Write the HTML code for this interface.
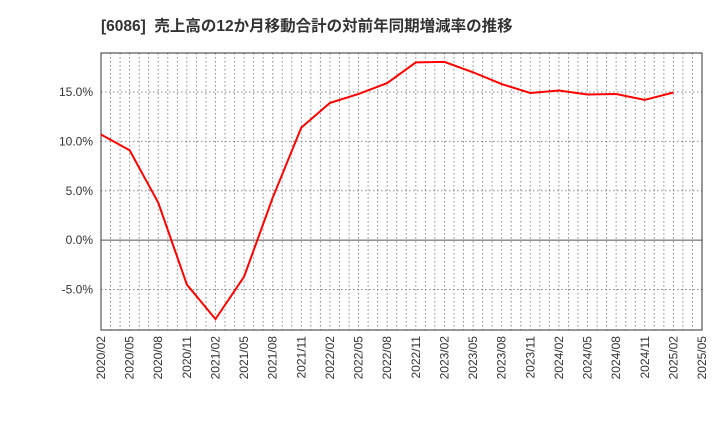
<!DOCTYPE html>
<html><head><meta charset="utf-8"><style>
body{margin:0;background:#fff;width:720px;height:440px;overflow:hidden}
text{font-family:"Liberation Sans","Noto Sans CJK JP",sans-serif}
</style></head><body>
<svg id="c" width="720" height="440" xmlns="http://www.w3.org/2000/svg">
<text x="101" y="31" font-size="15.5" font-weight="bold" fill="#333" xml:space="preserve">[6086]  売上高の12か月移動合計の対前年同期増減率の推移</text>
<g id="grid"></g><g id="axes"></g><g id="series"></g>
</svg>
<script>
const xLabels=["2020/02","2020/05","2020/08","2020/11","2021/02","2021/05","2021/08","2021/11","2022/02","2022/05","2022/08","2022/11","2023/02","2023/05","2023/08","2023/11","2024/02","2024/05","2024/08","2024/11","2025/02","2025/05"];
const values=[10.7,9.1,3.8,-4.5,-8.0,-3.7,4.3,11.4,13.9,14.8,15.9,18.0,18.05,17.0,15.8,14.9,15.15,14.75,14.8,14.2,14.95];
const yTicks=[-5,0,5,10,15];
const yTickLabels=["-5.0%","0.0%","5.0%","10.0%","15.0%"];
const L=101,R=702,T=53,B=330,ymin=-9.1,ymax=18.95;
const NS="http://www.w3.org/2000/svg";
const xs=i=>L+(R-L)*i/(xLabels.length-1);
const ys=v=>B-(v-ymin)/(ymax-ymin)*(B-T);
function mk(tag,attrs,parent){const e=document.createElementNS(NS,tag);for(const k in attrs)e.setAttribute(k,attrs[k]);document.getElementById(parent).appendChild(e);return e;}
const months=(xLabels.length-1)*3;
for(let m=1;m<months;m++){const x=L+(R-L)*m/months;
const g=mk('line',{x1:x,x2:x,y1:T,y2:B,stroke:'#888','stroke-dasharray':'1.5,2.5','stroke-width':1},'grid');

}
yTicks.forEach((v,i)=>{const y=ys(v);
const g=mk('line',{x1:L,x2:R,y1:y,y2:y,stroke:v===0?'#555':'#888','stroke-dasharray':v===0?'none':'1.5,2.5','stroke-width':1},'grid');


const t=mk('text',{x:L-8,y:y+4,'text-anchor':'end','font-size':12,fill:'#333'},'axes');t.textContent=yTickLabels[i];

});
xLabels.forEach((s,i)=>{const x=xs(i);
const t=mk('text',{x:x+4,y:B+6,'text-anchor':'end','font-size':12,fill:'#333',transform:`rotate(-90 ${x+4} ${B+6})`},'axes');t.textContent=s;

});
const f=mk('rect',{x:L,y:T,width:R-L,height:B-T,fill:'none',stroke:'#333','stroke-width':1},'axes');


const p=mk('polyline',{points:values.map((v,i)=>xs(i)+','+ys(v)).join(' '),fill:'none',stroke:'#ff0000','stroke-width':2},'series');


</script>
</body></html>
